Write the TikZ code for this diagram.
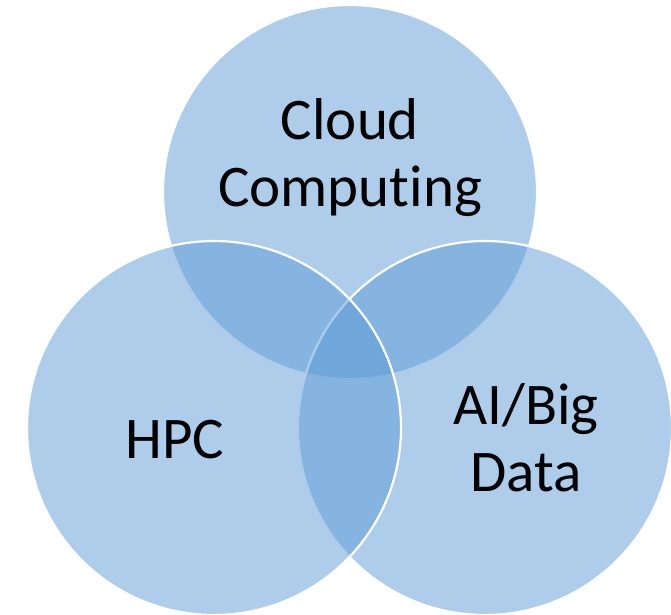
\documentclass[tikz,border=0pt]{standalone}
\usepackage{fontspec}
\setmainfont{Carlito}[RawFeature={-liga;-clig;-dlig;-calt}]
\definecolor{vennblue}{RGB}{91,155,213}
\begin{document}
\begin{tikzpicture}[x=1pt,y=-1pt,
  venn/.style={circle, minimum size=374pt, inner sep=0pt, fill=vennblue, fill opacity=0.5, draw=white, line width=2.2pt},
  lbl/.style={align=center, text=black, font=\fontsize{59}{67}\selectfont}]
\useasboundingbox (0,0) rectangle (671,614);
\node[venn] (cloud) at (350,192) {};
\node[venn] (ai) at (485,428) {};
\node[venn] (hpc) at (214,428) {};
\node[lbl] (tcloud) at (350,158) {Cloud\\Computing};
\node[lbl, anchor=base] (thpc) at (175,458) {HPC};
\node[lbl] (tai) at (526,438) {AI/Big\\Data};
\end{tikzpicture}
\end{document}
